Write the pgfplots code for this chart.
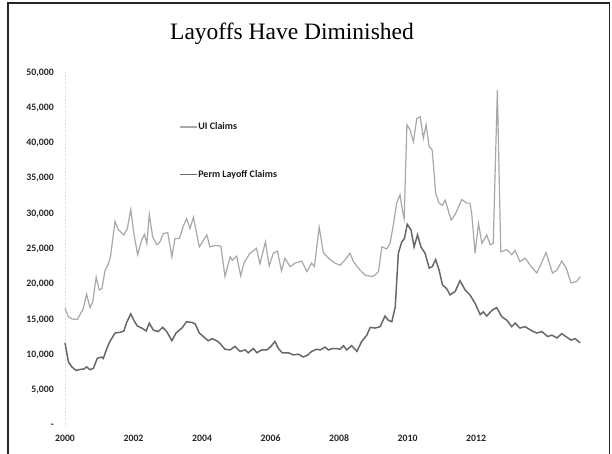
\documentclass[border=0pt]{standalone}
\usepackage{pgfplots}
\pgfplotsset{compat=1.18}
\usepackage{fontspec}
\setmainfont{Carlito}
\newfontfamily\titlefont{Liberation Serif}

\definecolor{uigray}{HTML}{A8A8A8}
\definecolor{permgray}{HTML}{686868}

\begin{document}
\begin{tikzpicture}[x=1pt,y=1pt]
\useasboundingbox (0,0) rectangle (612,454);

% slide frame
\draw[line width=1.6pt, black!85] (8,0) -- (8,451) -- (609.5,451) -- (609.5,0);

\node[font=\titlefont\fontsize{23.5}{26}\selectfont, anchor=base] at (292,414) {Layoffs Have Diminished};

\begin{axis}[
    at={(65pt,28.5pt)}, anchor=south west,
    scale only axis,
    width=531pt, height=353pt,
    xmin=2000, xmax=2015.5,
    ymin=0, ymax=50000,
    scaled y ticks=false,
    axis lines=left,
    axis line style={-},
    x axis line style={draw=none},
    y axis line style={dotted, black!18},
    major tick length=0pt,
    xtick={2000,2002,2004,2006,2008,2010,2012},
    xticklabels={2000,2002,2004,2006,2008,2010,2012},
    ytick={0,5000,10000,15000,20000,25000,30000,35000,40000,45000,50000},
    yticklabels={{-},{5,000},{10,000},{15,000},{20,000},{25,000},{30,000},{35,000},{40,000},{45,000},{50,000}},
    ticklabel style={font=\bfseries\fontsize{9.8}{11}\selectfont, text=black!85},
    yticklabel style={inner sep=0pt, anchor=east, xshift=-11pt},
    xticklabel style={inner sep=0pt, anchor=north, yshift=-9pt},
    clip=false,
    legend cell align=left,
    legend style={draw=none, fill=none, inner sep=0pt, row sep=37pt,
        font=\bfseries\fontsize{10}{12}\selectfont,
        nodes={inner sep=1pt, text=black!90},
        at={(axis description cs:0.214,0.778)}, anchor=west},
    legend image code/.code={\draw[#1] (0pt,0pt) -- (17pt,0pt);},
]

% UI Claims
\addplot[uigray, line width=1.2pt] coordinates {
(2000.00,16600) (2000.10,15400) (2000.20,15100) (2000.36,15000) (2000.46,15900)
(2000.53,16500) (2000.63,18600) (2000.73,16700) (2000.81,17500) (2000.91,21000)
(2001.00,19200) (2001.08,19400) (2001.17,22000) (2001.26,22800) (2001.33,24000)
(2001.46,28900) (2001.56,27700) (2001.72,27000) (2001.82,27900) (2001.92,30600)
(2002.01,27200) (2002.12,24200) (2002.24,26300) (2002.32,27100) (2002.39,25800)
(2002.46,29900) (2002.56,26700) (2002.68,25600) (2002.77,26000) (2002.87,27200)
(2003.00,27300) (2003.12,23900) (2003.21,26500) (2003.34,26500) (2003.45,28200)
(2003.55,29300) (2003.65,27900) (2003.75,29500) (2003.92,25300) (2004.14,27000)
(2004.23,25300) (2004.40,25500) (2004.55,25400) (2004.67,21100) (2004.82,23900)
(2004.88,23400) (2005.01,24000) (2005.13,21200) (2005.23,23100) (2005.40,24400)
(2005.59,25100) (2005.69,22900) (2005.85,26000) (2005.96,22600) (2006.08,24400)
(2006.20,24700) (2006.32,21900) (2006.42,23700) (2006.57,22500) (2006.72,23000)
(2006.91,23300) (2007.06,21800) (2007.20,23000) (2007.28,22500) (2007.42,28100)
(2007.54,24500) (2007.69,23700) (2007.88,23000) (2008.03,22700) (2008.18,23500)
(2008.32,24400) (2008.42,23200) (2008.56,22300) (2008.76,21300) (2008.95,21100)
(2009.05,21300) (2009.15,21800) (2009.25,25300) (2009.39,25000) (2009.49,25800)
(2009.59,28600) (2009.68,31500) (2009.78,32700) (2009.83,31000) (2009.90,29300)
(2009.98,42600) (2010.07,41900) (2010.17,40200) (2010.27,43500) (2010.37,43700)
(2010.46,40700) (2010.54,42600) (2010.63,39500) (2010.72,39000) (2010.82,32900)
(2010.92,31500) (2011.02,31200) (2011.10,31900) (2011.27,29100) (2011.39,29900)
(2011.58,32000) (2011.73,31500) (2011.82,31500) (2011.87,30100) (2011.97,24400)
(2012.07,28600) (2012.17,25800) (2012.31,27000) (2012.41,25600) (2012.50,25800)
(2012.62,47500) (2012.72,24600) (2012.90,24900) (2013.04,24200) (2013.14,24800)
(2013.28,23200) (2013.43,23700) (2013.58,22700) (2013.77,21600) (2013.90,22900)
(2014.04,24500) (2014.23,21600) (2014.36,22000) (2014.50,23300) (2014.63,22300)
(2014.77,20200) (2014.94,20400) (2015.04,21100)
};
\addlegendentry{UI Claims}

% Perm Layoff Claims
\addplot[permgray, line width=1.5pt] coordinates {
(2000.00,11700) (2000.10,9000) (2000.20,8300) (2000.32,7800) (2000.46,7960)
(2000.55,8000) (2000.63,8300) (2000.73,7900) (2000.83,8100) (2000.94,9500)
(2001.07,9700) (2001.12,9500) (2001.22,10900) (2001.31,11900) (2001.46,13100)
(2001.61,13200) (2001.72,13400) (2001.80,14600) (2001.92,15800) (2002.01,14900)
(2002.11,14100) (2002.24,13800) (2002.37,13400) (2002.46,14500) (2002.58,13500)
(2002.72,13300) (2002.85,13900) (2002.97,13300) (2003.12,12000) (2003.24,13100)
(2003.41,13800) (2003.55,14700) (2003.70,14600) (2003.80,14400) (2003.92,13100)
(2004.04,12600) (2004.18,12000) (2004.30,12300) (2004.43,12000) (2004.53,11600)
(2004.67,10800) (2004.82,10700) (2004.96,11200) (2005.11,10500) (2005.26,10700)
(2005.35,10300) (2005.50,10900) (2005.60,10300) (2005.74,10700) (2005.89,10700)
(2006.01,11200) (2006.13,11900) (2006.23,10900) (2006.34,10300) (2006.52,10300)
(2006.67,10000) (2006.81,10100) (2006.96,9700) (2007.09,10000) (2007.20,10500)
(2007.35,10800) (2007.45,10700) (2007.59,11100) (2007.69,10700) (2007.80,10900)
(2007.93,10900) (2008.03,10800) (2008.13,11300) (2008.22,10700) (2008.37,11300)
(2008.52,10500) (2008.66,11900) (2008.81,12800) (2008.91,13900) (2009.05,13800)
(2009.20,14000) (2009.34,15500) (2009.44,14900) (2009.54,14700) (2009.64,16800)
(2009.73,24400) (2009.83,26000) (2009.91,26500) (2009.99,28500) (2010.10,27700)
(2010.19,25300) (2010.29,27000) (2010.39,25300) (2010.51,24400) (2010.63,22300)
(2010.72,22500) (2010.82,23500) (2010.92,22000) (2011.02,19900) (2011.14,19400)
(2011.24,18500) (2011.39,19000) (2011.53,20500) (2011.68,19200) (2011.82,18500)
(2011.97,17300) (2012.12,15700) (2012.21,16100) (2012.31,15500) (2012.46,16300)
(2012.60,16700) (2012.75,15400) (2012.90,14900) (2013.04,14000) (2013.14,14500)
(2013.28,13800) (2013.43,14000) (2013.63,13400) (2013.77,13100) (2013.92,13300)
(2014.09,12600) (2014.21,12800) (2014.36,12400) (2014.50,13000) (2014.65,12500)
(2014.77,12100) (2014.89,12300) (2015.04,11700)
};
\addlegendentry{Perm Layoff Claims}

\end{axis}
\end{tikzpicture}
\end{document}
